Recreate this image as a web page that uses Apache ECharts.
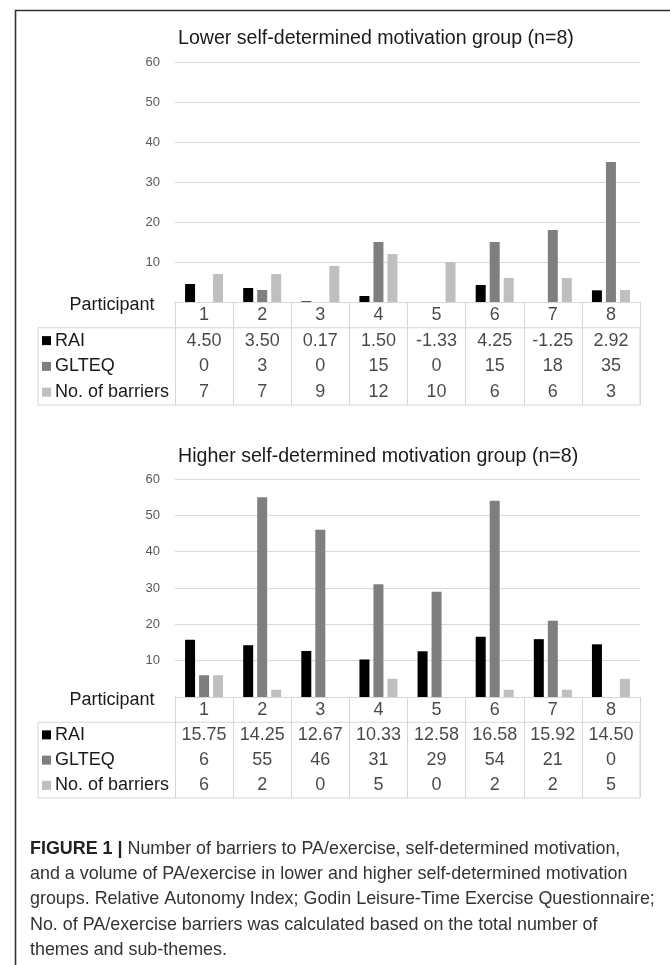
<!DOCTYPE html>
<html>
<head>
<meta charset="utf-8">
<script src="https://cdn.jsdelivr.net/npm/echarts@6/dist/echarts.min.js"></script>
<style>
html,body{margin:0;padding:0;background:#fff;}
#main{width:670px;height:965px;}
</style>
</head>
<body>
<div id="main"></div>
<script>
// ---- data ----
const categories = ['1', '2', '3', '4', '5', '6', '7', '8'];
const rowNames = ['Participant', 'RAI', 'GLTEQ', 'No. of barriers'];
const seriesNames = ['RAI', 'GLTEQ', 'No. of barriers'];
const seriesColors = ['#000000', '#7f7f7f', '#bfbfbf'];
const yTicks = [0, 10, 20, 30, 40, 50, 60];

const lowerTitle = 'Lower self-determined motivation group (n=8)';
const lowerRAI = [4.50, 3.50, 0.17, 1.50, -1.33, 4.25, -1.25, 2.92];
const lowerGLTEQ = [0, 3, 0, 15, 0, 15, 18, 35];
const lowerBarriers = [7, 7, 9, 12, 10, 6, 6, 3];

const higherTitle = 'Higher self-determined motivation group (n=8)';
const higherRAI = [15.75, 14.25, 12.67, 10.33, 12.58, 16.58, 15.92, 14.50];
const higherGLTEQ = [6, 55, 46, 31, 29, 54, 21, 0];
const higherBarriers = [6, 2, 0, 5, 0, 2, 2, 5];

const captionLines = [
  '{b|FIGURE 1 |} Number of barriers to PA/exercise, self-determined motivation,',
  'and a volume of PA/exercise in lower and higher self-determined motivation',
  'groups. Relative Autonomy Index; Godin Leisure-Time Exercise Questionnaire;',
  'No. of PA/exercise barriers was calculated based on the total number of',
  'themes and sub-themes.'
];

// ---- layout ----
const FONT = '"Liberation Sans", Arial, sans-serif';
const PL = 175, PW = 465;
const panels = [
  { title: lowerTitle, titleTop: 29, plotTop: 62, plotH: 240, tableH: 103, values: [lowerRAI, lowerGLTEQ, lowerBarriers] },
  { title: higherTitle, titleTop: 447, plotTop: 479, plotH: 218, tableH: 101, values: [higherRAI, higherGLTEQ, higherBarriers] }
];

const grid = [], xAxis = [], yAxis = [], series = [], title = [];
const lineColor = '#d6d6d6';

const rich = {
  p: { width: 140, align: 'center', fontSize: 18, fontFamily: FONT, color: '#1a1a1a', padding: [0, 0, 20, 0] },
  t: { fontSize: 18, fontFamily: FONT, color: '#1a1a1a', padding: [0, 0, 0, 4] }
};
seriesColors.forEach((c, i) => { rich['m' + i] = { width: 9, height: 9, backgroundColor: c }; });

panels.forEach((pn, k) => {
  const tableTop = pn.plotTop + pn.plotH;
  const rowH = pn.tableH / 4;
  const g0 = grid.length;
  grid.push({ left: PL, top: pn.plotTop, width: PW, height: pn.plotH });
  grid.push({ left: PL, top: tableTop, width: PW, height: pn.tableH });
  grid.push({ left: 38, top: tableTop + rowH, width: PL + PW - 38, height: pn.tableH - rowH, show: true, borderColor: lineColor, borderWidth: 1, backgroundColor: 'transparent' });

  title.push({ text: pn.title, left: 178, top: pn.titleTop, padding: 0, textStyle: { fontSize: 19.6, fontWeight: 'normal', color: '#1a1a1a', fontFamily: FONT } });

  xAxis.push({ gridIndex: g0, type: 'category', data: categories, axisLine: { lineStyle: { color: lineColor } }, axisTick: { show: false }, axisLabel: { show: false } });
  yAxis.push({ gridIndex: g0, type: 'value', min: yTicks[0], max: yTicks[yTicks.length - 1], interval: yTicks[1] - yTicks[0],
    axisLine: { show: false }, axisTick: { show: false },
    axisLabel: { color: '#595959', fontSize: 13, fontFamily: FONT, margin: 15, formatter: v => v === 0 ? '' : String(v) },
    splitLine: { lineStyle: { color: '#d9d9d9' } } });
  xAxis.push({ gridIndex: g0 + 1, type: 'category', data: categories, axisLine: { show: false }, axisTick: { show: false }, axisLabel: { show: false },
    splitLine: { show: true, interval: 0, lineStyle: { color: lineColor } } });
  yAxis.push({ gridIndex: g0 + 1, type: 'category', data: rowNames, inverse: true,
    axisLine: { show: true, lineStyle: { color: lineColor } }, axisTick: { show: false }, splitLine: { show: false },
    axisLabel: { align: 'left', margin: 133, rich: rich,
      formatter: (v, i) => i === 0 ? '{p|' + v + '}' : '{m' + (i - 1) + '| }{t|' + v + '}' } });
  xAxis.push({ gridIndex: g0 + 2, type: 'value', show: false });
  yAxis.push({ gridIndex: g0 + 2, type: 'value', show: false });

  const xi = xAxis.length - 3, yi = yAxis.length - 3;
  seriesNames.forEach((name, s) => {
    series.push({ type: 'bar', name: name, xAxisIndex: xi, yAxisIndex: yi, data: pn.values[s],
      barWidth: 10, barGap: '40%', itemStyle: { color: seriesColors[s] }, clip: true, silent: true });
  });
  const cells = [];
  categories.forEach((c, i) => cells.push([i, 0, c]));
  pn.values.forEach((arr, s) => arr.forEach((v, i) => cells.push([i, s + 1, s === 0 ? v.toFixed(2) : String(v)])));
  series.push({ type: 'scatter', xAxisIndex: xi + 1, yAxisIndex: yi + 1, data: cells, symbolSize: 1, silent: true,
    itemStyle: { color: 'rgba(0,0,0,0)' },
    label: { show: true, position: 'inside', formatter: p => p.data[2], fontSize: 18, fontFamily: FONT, color: '#1a1a1a' } });
});

const chart = echarts.init(document.getElementById('main'), null, { renderer: 'canvas' });
chart.setOption({
  animation: false,
  backgroundColor: '#ffffff',
  title: title,
  grid: grid,
  xAxis: xAxis,
  yAxis: yAxis,
  series: series,
  graphic: [
    { type: 'rect', left: 13, top: 8, shape: { width: 700, height: 1000 }, style: { fill: 'none', stroke: '#333333', lineWidth: 1.6 }, silent: true },
    { type: 'text', left: 30, top: 836, silent: true,
      style: { text: captionLines.join('\n'), fontSize: 17.9, lineHeight: 25.4, fontFamily: FONT, fill: '#333333',
        rich: { b: { fontWeight: 'bold', fontSize: 17.9, lineHeight: 25.4, fontFamily: FONT, fill: '#222222' } } } }
  ]
});
</script>
</body>
</html>
